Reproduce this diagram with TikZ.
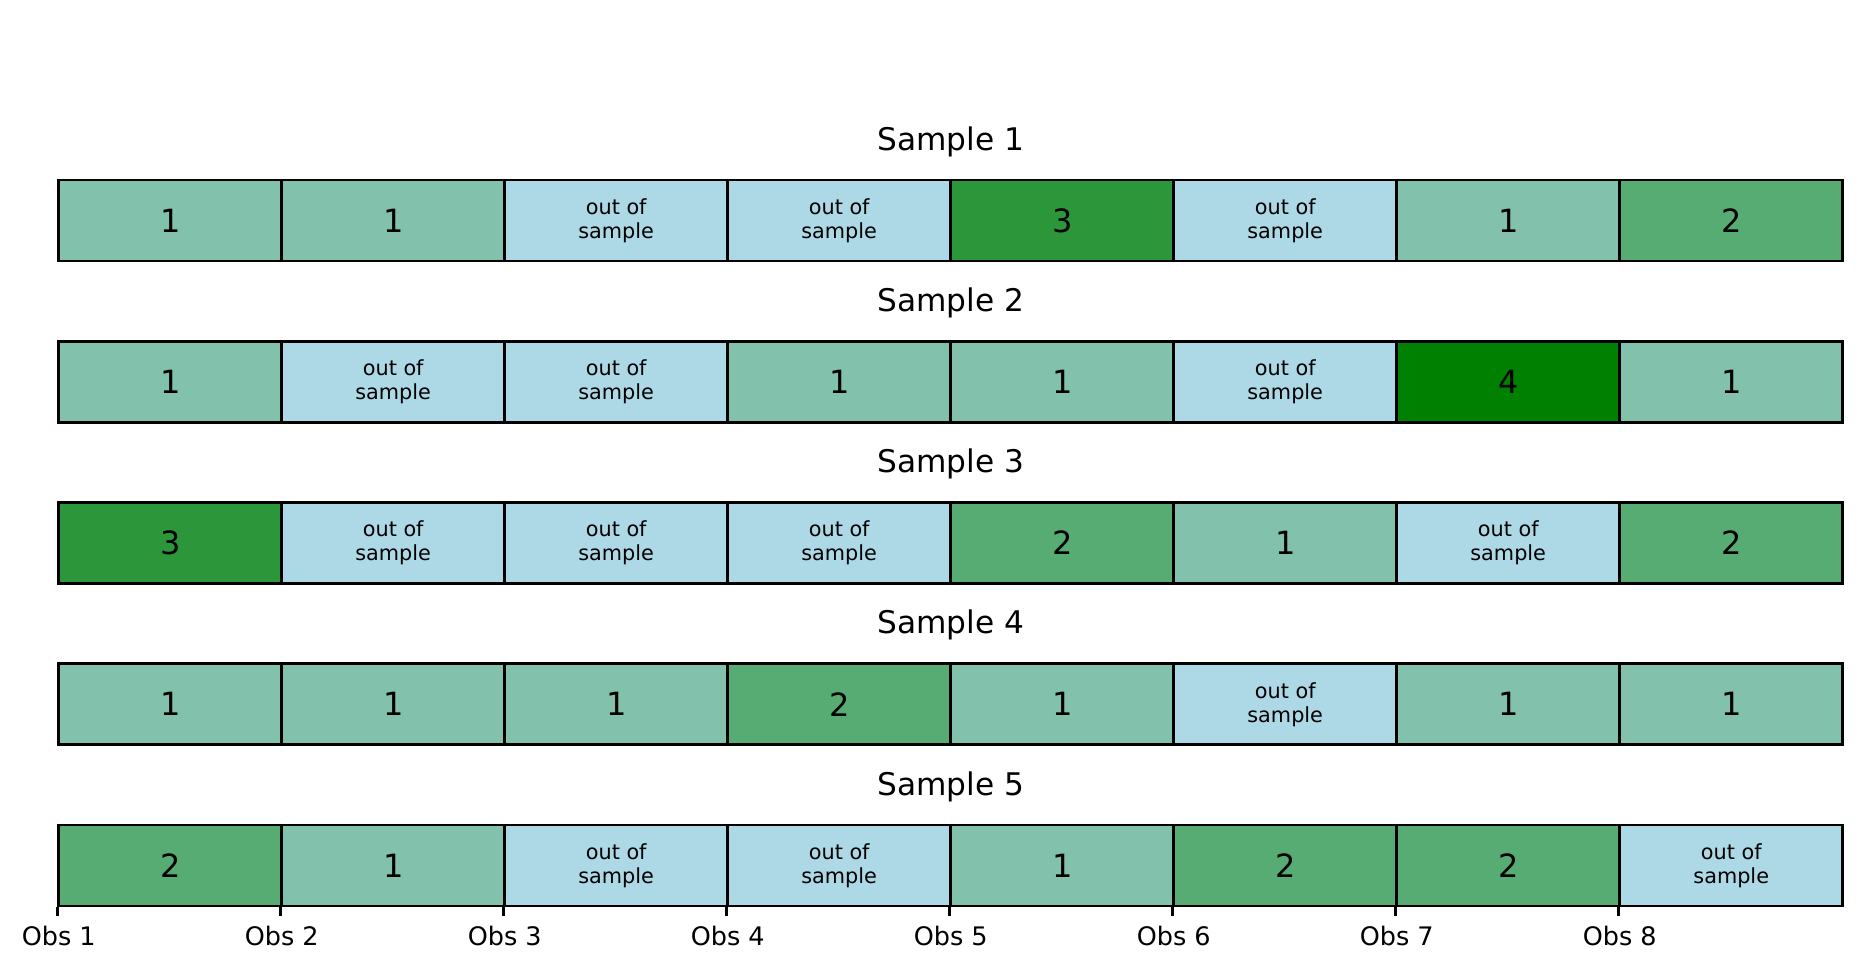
\documentclass[tikz,border=0pt]{standalone}
\usepackage{fontspec}
\setmainfont{DejaVu Sans}
\definecolor{lb}{RGB}{173,216,230}
\definecolor{mgreen}{RGB}{0,128,0}
\colorlet{g1}{mgreen!25!lb}
\colorlet{g2}{mgreen!50!lb}
\colorlet{g3}{mgreen!75!lb}
\colorlet{g4}{mgreen}
\begin{document}
\begin{tikzpicture}[x=0.5pt,y=-0.5pt,
  cell/.style={draw=black, line width=1.4pt, minimum width=111.5pt, minimum height=40.5pt,
    inner sep=0pt, anchor=center, text=black, font=\fontsize{16}{19}\selectfont},
  v1/.style={fill=g1, node contents=1},
  v2/.style={fill=g2, node contents=2},
  v3/.style={fill=g3, node contents=3},
  v4/.style={fill=g4, node contents=4},
  vo/.style={fill=lb, align=center, font=\fontsize{10.4}{12}\selectfont, node contents={out of\\sample}},
  title/.style={font=\fontsize{15.6}{18}\selectfont, anchor=center},
  obs/.style={font=\fontsize{12.75}{15}\selectfont, anchor=center},
  tick/.style={line width=1.4pt}]
\useasboundingbox (0,0) rectangle (1862,970);
\foreach \r/\vals in {1/{1,1,o,o,3,o,1,2},2/{1,o,o,1,1,o,4,1},3/{3,o,o,o,2,1,o,2},4/{1,1,1,2,1,o,1,1},5/{2,1,o,o,1,2,2,o}} {
  \node[title] (t\r) at (950.7, {141.5+161.25*(\r-1)}) {Sample \r};
  \foreach \v [count=\i] in \vals {
    \node[cell, name=c\r-\i, at={({58.7+223*(\i-0.5)}, {220.5+161.25*(\r-1)})}, v\v];
  }
}
\foreach \i in {1,...,8} {
  \draw[tick] (c5-\i.south west) -- ++(0,9) coordinate (k\i);
  \node[obs] (o\i) at ({58.7+223*(\i-1)}, 936) {Obs \i};
}
\end{tikzpicture}
\end{document}
